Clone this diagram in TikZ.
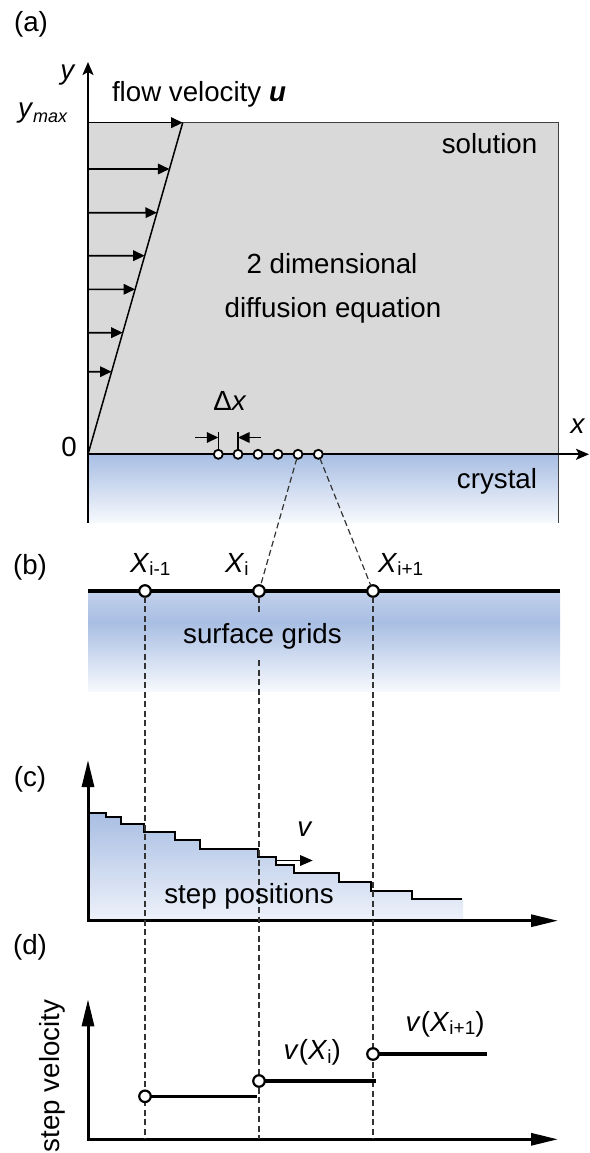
\documentclass[tikz,border=0pt]{standalone}
\usepackage{fontspec}
\setmainfont{Liberation Sans}
\usetikzlibrary{arrows.meta,calc}
\definecolor{grayfill}{HTML}{D9D9D9}
\definecolor{blueA}{HTML}{A8BEE3}
\definecolor{blueTop}{HTML}{C3D1EC}
\definecolor{blueEnd}{HTML}{F7F9FD}
\definecolor{blueC}{HTML}{EEF2FA}
\newcommand{\fs}{\fontsize{27.7}{33}\selectfont}
\newcommand{\mysub}[1]{\raisebox{-3.5pt}{\fontsize{19}{19}\selectfont #1}}
\tikzset{
 lbl/.style={inner sep=0pt, outer sep=0pt, font=\fs},
 axisA/.style={line width=2pt, -{Stealth[length=13pt,width=11pt,inset=3pt]}},
 flowarr/.style={line width=1.6pt, -{Triangle[length=11.5pt,width=10.5pt]}},
 flowline/.style={line width=1.5pt},
 boxborder/.style={line width=1.3pt, draw=black!75},
 gridA/.style={circle, draw, fill=white, line width=1.8pt, minimum size=9pt, inner sep=0pt, outer sep=0pt},
 gridB/.style={circle, draw, fill=white, line width=2.2pt, minimum size=11.5pt, inner sep=0pt, outer sep=0pt},
 dashc/.style={line width=1.2pt, draw=black!80, dash pattern=on 6pt off 3.5pt},
 surfline/.style={line width=3.5pt},
 axisC/.style={line width=3pt, line join=miter, {Triangle[length=27pt,width=12pt]}-{Triangle[length=27pt,width=12pt]}},
 stairline/.style={line width=2pt, line join=miter},
 varr/.style={line width=1.5pt, -{Triangle[length=12.5pt,width=10.5pt]}},
 velseg/.style={line width=3.5pt},
 dxtick/.style={line width=1.3pt},
}
\begin{document}
\begin{tikzpicture}[x=1pt,y=-1pt]
\useasboundingbox (0,0) rectangle (589,1153);
% ---------- panel (a)
\fill[grayfill] (88,122.7) rectangle (558.3,454.3);
\shade[top color=blueA, bottom color=blueEnd] (88,454.3) rectangle (558.3,522.7);
\coordinate (tl) at (88,122.7);
\coordinate (tr) at (558.3,122.7);
\coordinate (br) at (558.3,522.7);
\draw[boxborder] (tl) -- (tr) -- (br);
\coordinate (s0) at (88,454.3);
\coordinate (s1) at (182.7,122.7);
\draw[flowline] (s0) -- (s1);
\foreach \yy in {122.7,169,212.7,255.7,289.3,332.7,371.7}{
  \draw[flowarr] (88,\yy) -- ($(s0)!{(454.3-\yy)/331.6}!(s1)$);
}
\coordinate (ybot) at (88,522.7);
\coordinate (ytip) at (88,62);
\coordinate (xtip) at (589,454.3);
\draw[axisA] (ybot) -- (ytip);
\draw[axisA] (s0) -- (xtip);
\node[gridA] (a1) at (218.3,454.3) {};
\node[gridA] (a2) at (238,454.3) {};
\node[gridA] (a3) at (258,454.3) {};
\node[gridA] (a4) at (278,454.3) {};
\node[gridA] (a5) at (298,454.3) {};
\node[gridA] (a6) at (318.3,454.3) {};
\coordinate (t1) at (218.3,431.7);
\coordinate (t2) at (238,431.7);
\draw[dxtick] (a1) -- (t1);
\draw[dxtick] (a2) -- (t2);
\coordinate (dl0) at (195,437.5);
\coordinate (dl1) at (218.3,437.5);
\coordinate (dr0) at (261,437.5);
\coordinate (dr1) at (238,437.5);
\draw[flowarr] (dl0) -- (dl1);
\draw[flowarr] (dr0) -- (dr1);
% ---------- panel (b)
\shade[top color=blueTop, bottom color=blueA] (88,591) rectangle (560,622);
\shade[top color=blueA, bottom color=blueEnd] (88,622) rectangle (560,691.7);
\coordinate (sl) at (88,591);
\coordinate (sr) at (560,591);
\draw[surfline] (sl) -- (sr);
% ---------- panel (c)
\shade[top color=blueA, bottom color=blueC] (88,920.7) -- (88,812.7) -- (106,812.7) -- (106,817.3) -- (120.7,817.3) -- (120.7,823.7) -- (144,823.7) -- (144,832) -- (175,832) -- (175,840.3) -- (200,840.3) -- (200,849) -- (258.3,849) -- (258.3,856.7) -- (276,856.7) -- (276,865) -- (294,865) -- (294,873.3) -- (339,873.3) -- (339,882.3) -- (371,882.3) -- (371,890.7) -- (411.7,890.7) -- (411.7,899) -- (463,899) -- (463,920.7) -- cycle;
\draw[stairline] (88,812.7) -- (106,812.7) -- (106,817.3) -- (120.7,817.3) -- (120.7,823.7) -- (144,823.7) -- (144,832) -- (175,832) -- (175,840.3) -- (200,840.3) -- (200,849) -- (258.3,849) -- (258.3,856.7) -- (276,856.7) -- (276,865) -- (294,865) -- (294,873.3) -- (339,873.3) -- (339,882.3) -- (371,882.3) -- (371,890.7) -- (411.7,890.7) -- (411.7,899) -- (461.7,899);
\coordinate (va) at (276,860.5);
\coordinate (vb) at (312.7,860.5);
\draw[varr] (va) -- (vb);
\coordinate (cy) at (88,760);
\coordinate (co) at (88,920.7);
\coordinate (cx) at (558,920.7);
\draw[axisC] (cy) -- (co) -- (cx);
% ---------- panel (d) axes
\coordinate (dy) at (88,999.3);
\coordinate (do) at (88,1139.3);
\coordinate (dx) at (558,1139.3);
\draw[axisC] (dy) -- (do) -- (dx);
% ---------- grid nodes (b) and dashed guides
\node[gridB] (b1) at (145,591) {};
\node[gridB] (b2) at (259,591) {};
\node[gridB] (b3) at (373,591) {};
\draw[dashc] (a5) -- (b2);
\draw[dashc] (a6) -- (b3);
\coordinate (e1) at (145,1139.3);
\coordinate (g2a) at (259,613);
\coordinate (g2b) at (259,660);
\coordinate (e2) at (259,1139.3);
\coordinate (e3) at (373,1139.3);
\draw[dashc] (b1) -- (e1);
\draw[dashc] (b2) -- (g2a);
\draw[dashc] (g2b) -- (e2);
\draw[dashc] (b3) -- (e3);
% ---------- panel (d) values
\node[gridB] (d1) at (145,1096.3) {};
\node[gridB] (d2) at (259,1081) {};
\node[gridB] (d3) at (373,1054) {};
\coordinate (f1) at (257.3,1096.3);
\coordinate (f2) at (375.6,1081);
\coordinate (f3) at (486.5,1054);
\draw[velseg] (d1) -- (f1);
\draw[velseg] (d2) -- (f2);
\draw[velseg] (d3) -- (f3);
% ---------- labels
\node[lbl, anchor=base] (la) at (31,32) {(a)};
\node[lbl, anchor=base] (ly) at (68,79.5) {\textit{y}};
\node[lbl, anchor=base west] (lflow) at (112,102) {flow velocity \textbf{\textit{u}}};
\node[lbl, anchor=base west] (lymax) at (18,117.4) {\textit{y}\raisebox{-5.5pt}{\fontsize{18}{18}\selectfont\itshape max}};
\node[lbl, anchor=base] (lsol) at (489.5,153.3) {solution};
\node[lbl, anchor=base] (l2d) at (332,273.3) {2 dimensional};
\node[lbl, anchor=base] (ldiff) at (333,317) {diffusion equation};
\node[lbl, anchor=base] (ldx) at (230,410) {Δ\textit{x}};
\node[lbl, anchor=base] (l0) at (69,456.5) {0};
\node[lbl, anchor=base] (lx) at (578,433) {\textit{x}};
\node[lbl, anchor=base] (lcry) at (497,488.3) {crystal};
\node[lbl, anchor=base] (lb) at (30,574) {(b)};
\node[lbl, anchor=base west] (lx1) at (130,572) {\textit{X}\mysub{i-1}};
\node[lbl, anchor=base west] (lx2) at (225,572) {\textit{X}\mysub{i}};
\node[lbl, anchor=base west] (lx3) at (378,572) {\textit{X}\mysub{i+1}};
\node[lbl, anchor=base] (lsg) at (262.5,643) {surface grids};
\node[lbl, anchor=base] (lc) at (30,786) {(c)};
\node[lbl, anchor=base] (lv) at (305,836.7) {\textit{v}};
\node[lbl, anchor=base] (lsp) at (249,903) {step positions};
\node[lbl, anchor=base] (ld) at (30,954.7) {(d)};
\node[lbl, anchor=base, rotate=90] (lsv) at (59,1076) {step velocity};
\node[lbl, anchor=base west] (lv1) at (283.6,1059.7) {\textit{v}(\textit{X}\mysub{i})};
\node[lbl, anchor=base west] (lv2) at (405.7,1031) {\textit{v}(\textit{X}\mysub{i+1})};
\end{tikzpicture}
\end{document}
